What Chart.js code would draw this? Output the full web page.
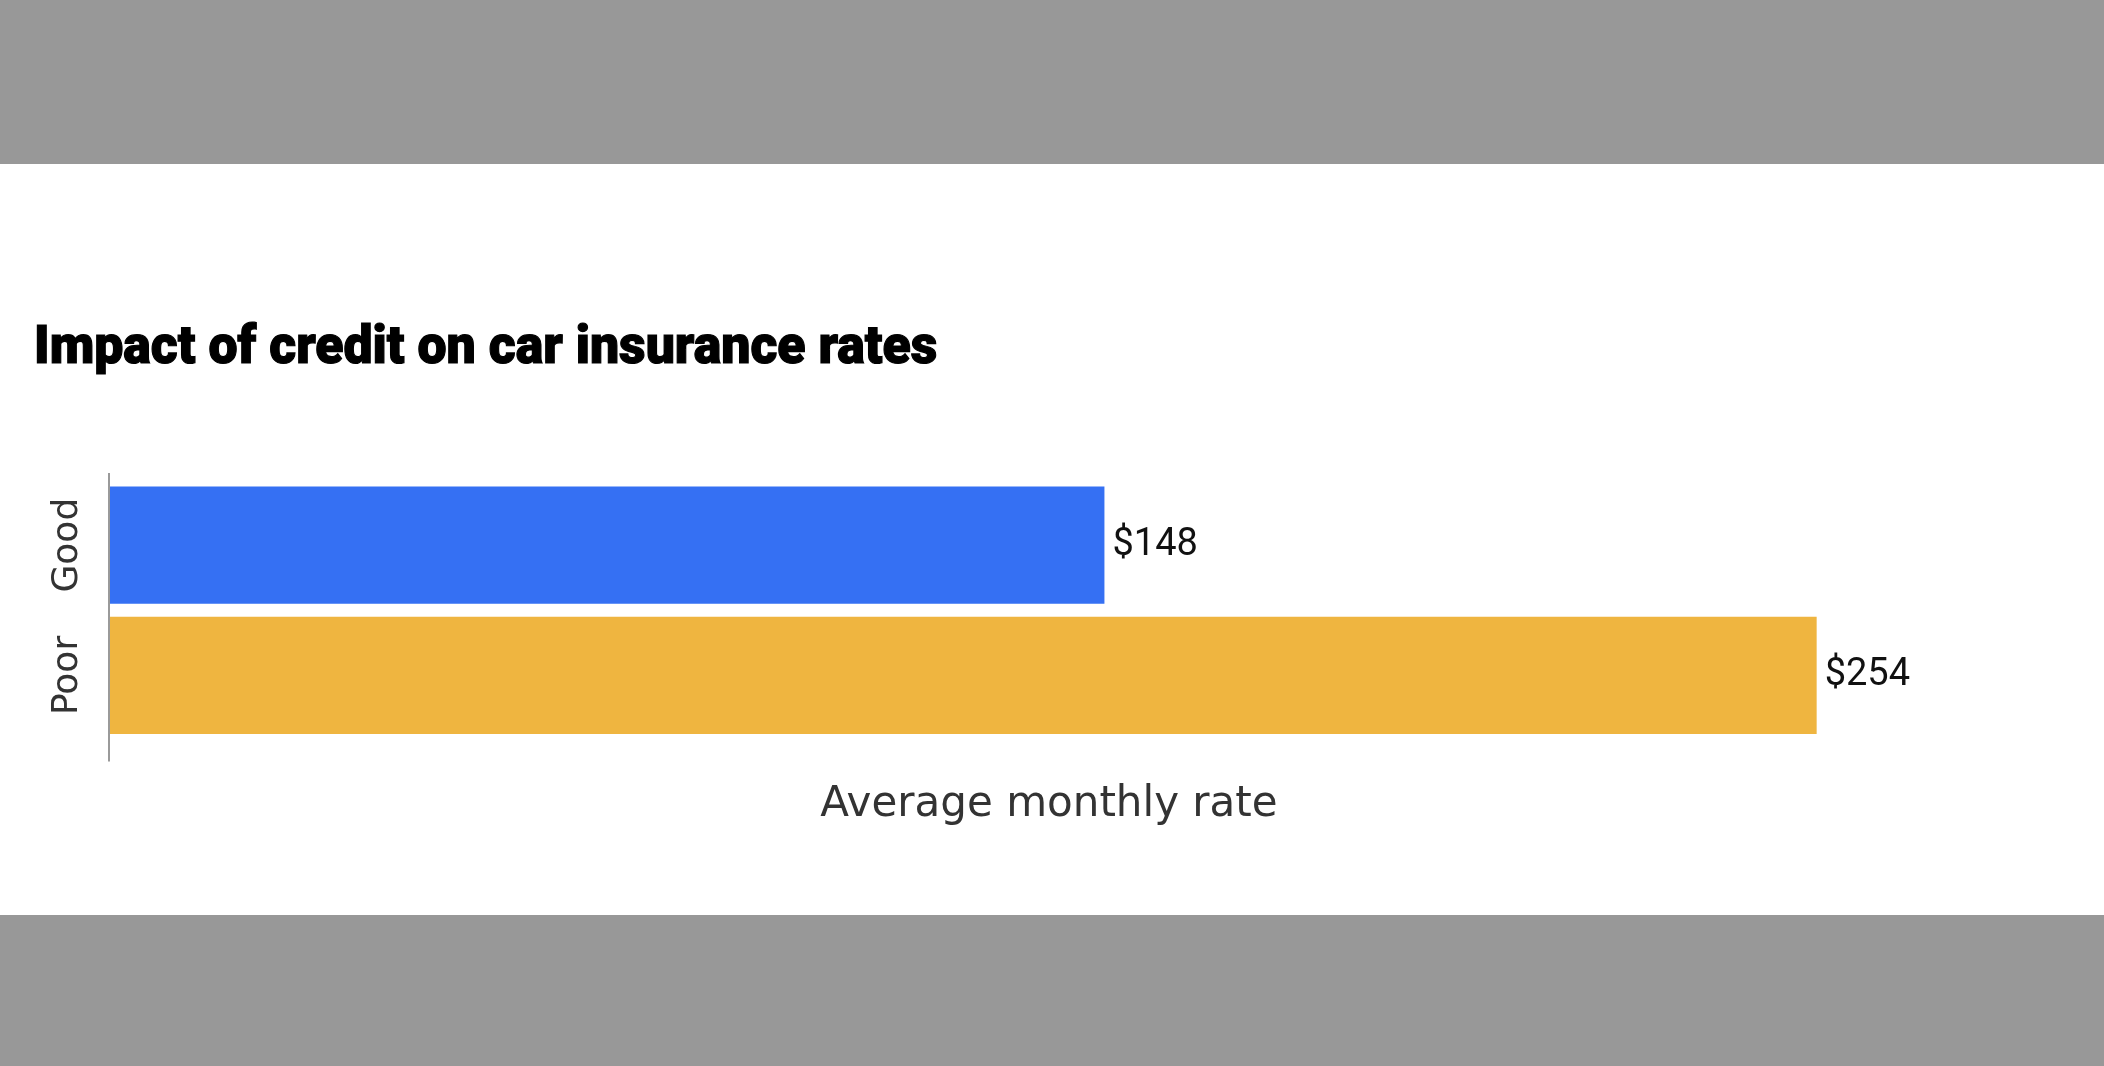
<!DOCTYPE html>
<html>
<head>
<meta charset="utf-8">
<script src="https://cdn.jsdelivr.net/npm/chart.js@4/dist/chart.umd.min.js"></script>
<style>
  html, body { margin: 0; padding: 0; }
  body { width: 2104px; height: 1066px; position: relative; overflow: hidden; background: #fff; }
  .banda { position: absolute; left: 0; width: 2104px; background: #989898; }
  #topo { top: 0; height: 164px; }
  #base { top: 915px; height: 151px; }
  #titulo {
    position: absolute; left: 34px; top: 318px; margin: 0;
    font-family: Roboto, sans-serif; font-weight: 900; font-size: 54px; line-height: 1;
    color: #000; white-space: nowrap; transform-origin: left top;
    -webkit-text-stroke: 1.2px #000;
  }
  #grafico { position: absolute; left: 0; top: 0; }
</style>
</head>
<body>
<div class="banda" id="topo"></div>
<div class="banda" id="base"></div>
<h1 id="titulo">Impact of credit on car insurance rates</h1>
<canvas id="grafico" width="2104" height="1066"></canvas>
<script>
// dados
const categorias = ['Good', 'Poor']
const taxas = [148, 254]
const cores = ['#3570F3', '#EFB540']
const tituloEixoX = 'Average monthly rate'

// ajusta a largura do titulo (fonte mais condensada no original)
const titulo = document.getElementById('titulo')
titulo.style.transform = 'scaleX(' + (903 / titulo.offsetWidth) + ')'

const padEsq = 20

// linha do eixo y, um pouco maior que a area do grafico
const linhaEixo = {
    id: 'linhaEixo',
    afterDatasetsDraw(chart) {
        const area = chart.chartArea
        const ctx = chart.ctx
        ctx.save()
        ctx.strokeStyle = '#9a9a9a'
        ctx.lineWidth = 2
        ctx.beginPath()
        ctx.moveTo(area.left - 1, area.top - 7)
        ctx.lineTo(area.left - 1, area.bottom + 21)
        ctx.stroke()
        ctx.restore()
    }
}

// rotulos de valor no fim das barras
const rotulosValor = {
    id: 'rotulosValor',
    afterDatasetsDraw(chart) {
        const ctx = chart.ctx
        const meta = chart.getDatasetMeta(0)
        ctx.save()
        ctx.font = '38px Roboto'
        ctx.fillStyle = '#111'
        ctx.textBaseline = 'alphabetic'
        meta.data.forEach((barra, i) => {
            ctx.fillText('$' + taxas[i], barra.x + 8, barra.y + 10)
        })
        ctx.restore()
    }
}

new Chart(document.getElementById('grafico'), {
    type: 'bar',
    data: {
        labels: categorias,
        datasets: [{
            data: taxas,
            backgroundColor: cores,
            borderWidth: 0,
            barPercentage: 1,
            categoryPercentage: 0.9
        }]
    },
    options: {
        indexAxis: 'y',
        responsive: false,
        animation: false,
        layout: { padding: { top: 480, right: 116, bottom: 233, left: padEsq } },
        plugins: {
            legend: { display: false },
            tooltip: { enabled: false }
        },
        scales: {
            x: {
                min: 0,
                max: 279.5,
                grid: { display: false },
                border: { display: false },
                ticks: { display: false },
                title: {
                    display: true,
                    text: tituloEixoX,
                    color: '#333',
                    font: { family: 'DejaVu Sans', size: 42 },
                    padding: { top: 31, bottom: 3 }
                }
            },
            y: {
                grid: { display: false, drawTicks: false },
                border: { display: false },
                ticks: {
                    minRotation: 90,
                    maxRotation: 90,
                    crossAlign: 'center',
                    padding: -5,
                    color: '#333',
                    font: { family: 'DejaVu Sans', size: 36 }
                },
                afterFit: (escala) => { escala.width = 110 - padEsq }
            }
        }
    },
    plugins: [linhaEixo, rotulosValor]
})
</script>
</body>
</html>
